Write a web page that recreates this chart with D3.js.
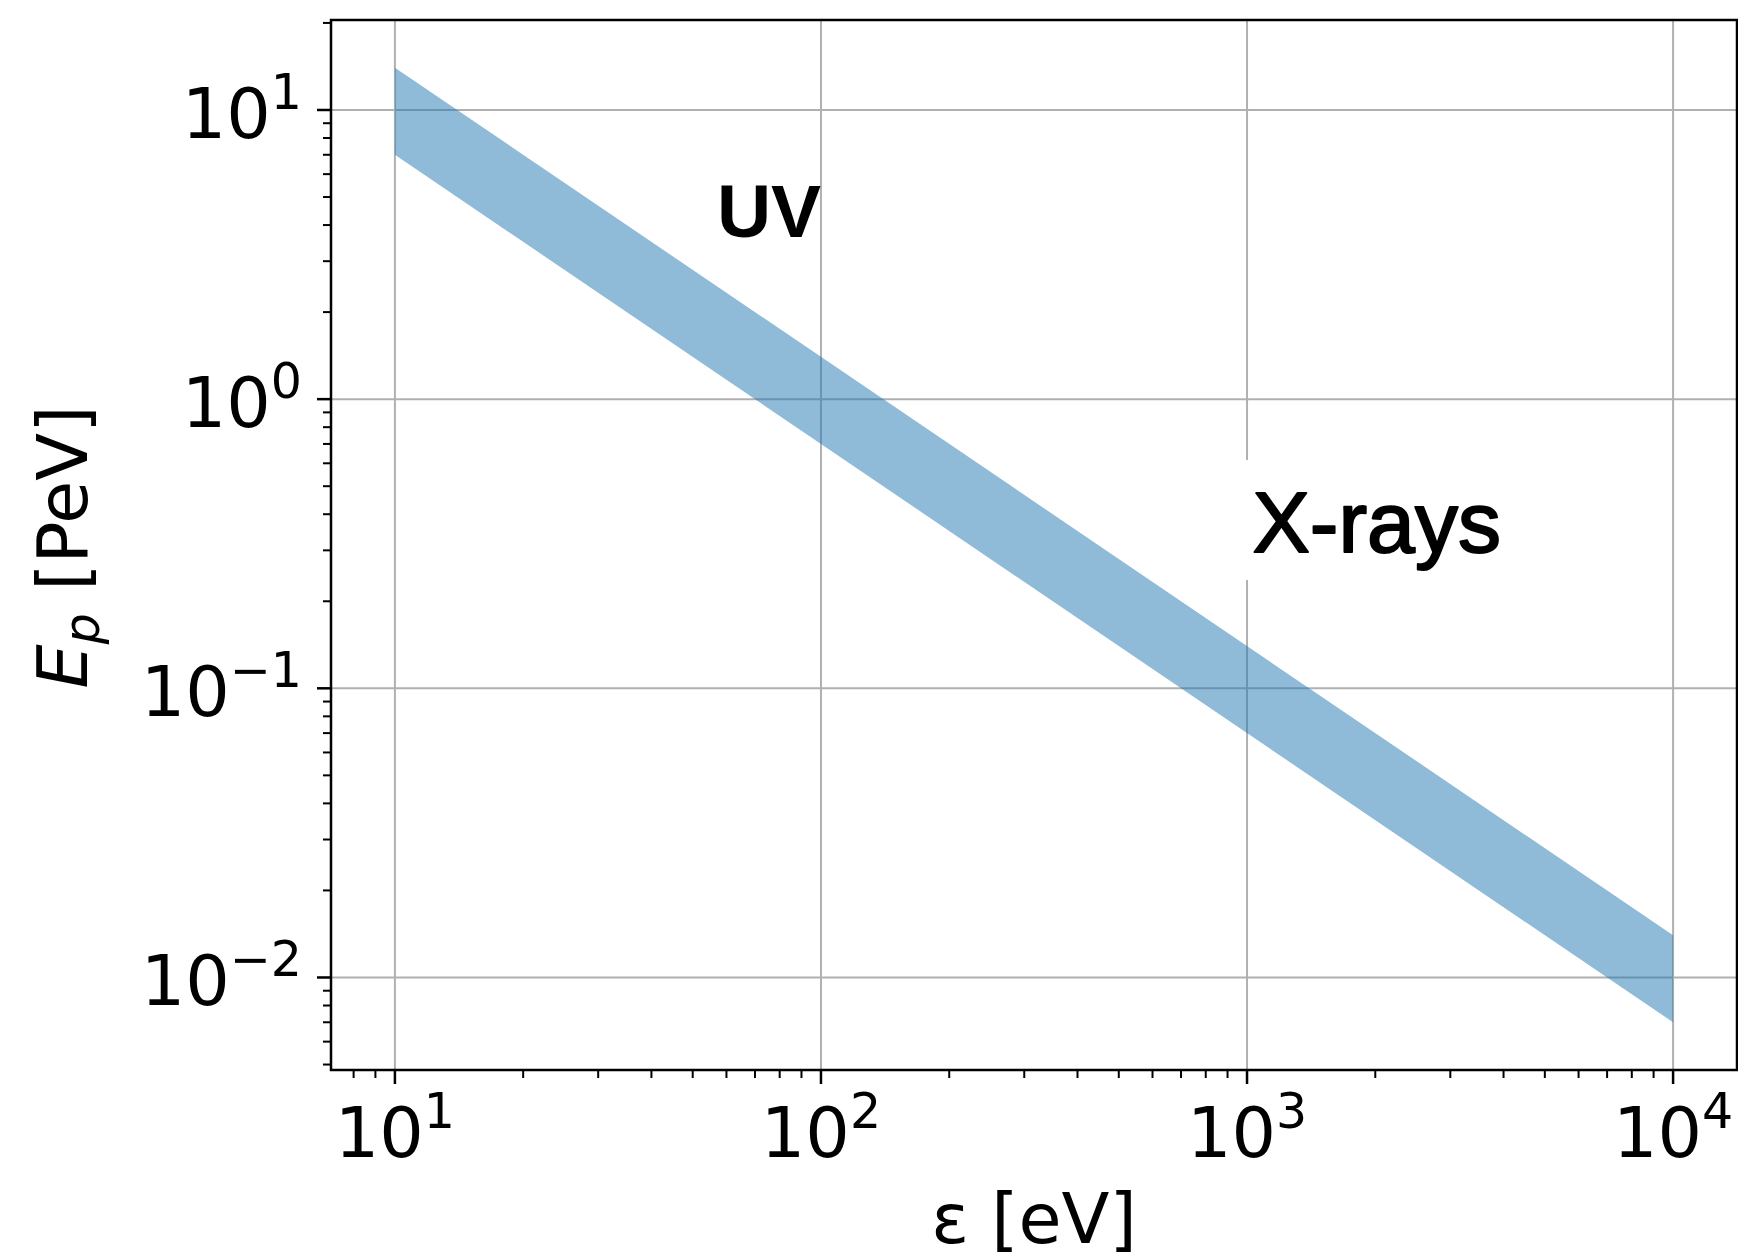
<!DOCTYPE html>
<html>
<head>
<meta charset="utf-8">
<script src="https://cdn.jsdelivr.net/npm/d3@7"></script>
<style>
  html, body { margin: 0; padding: 0; background: #fff; }
  svg { display: block; }
</style>
</head>
<body>
<div id="chart"></div>
<script>
// photon energy at the two ends of the band [eV]
const photonEnergy = [10, 10000];
// proton energy band [PeV], lower and upper edge
const protonLow = [7, 0.007];
const protonHigh = [14, 0.014];

// decades shown as major ticks
const xExponents = [1, 2, 3, 4];
const yExponents = [-2, -1, 0, 1];

// text annotations, placed in data coordinates
const notes = [
  { text: 'UV', eps: 57, ep: 3.65, weight: 'bold', size: 75, box: false, thicken: 0 },
  { text: 'X-rays', eps: 1030, ep: 0.296, weight: 'normal', size: 86, box: true, thicken: 2 }
];

const width = 1738;
const height = 1260;

const svg = d3.select('#chart').append('svg')
  .attr('width', width)
  .attr('height', height);

// matplotlib style 5% margin in log space
function logPadded(values) {
  const lo = Math.log10(d3.min(values));
  const hi = Math.log10(d3.max(values));
  const m = (hi - lo) * 0.05;
  return [Math.pow(10, lo - m), Math.pow(10, hi + m)];
}

const plotLeft = 331, plotRight = 1737, plotTop = 20, plotBottom = 1070;

const x = d3.scaleLog().domain(logPadded(photonEnergy)).range([plotLeft, plotRight]);
const y = d3.scaleLog().domain(logPadded(protonLow.concat(protonHigh))).range([plotBottom, plotTop]);

const font = '"DejaVu Sans", sans-serif';
const tickSize = 70;

// grid at the major ticks
const grid = svg.append('g').attr('stroke', '#b0b0b0').attr('stroke-width', 2);
xExponents.forEach((e) => {
  const gx = x(Math.pow(10, e));
  grid.append('line').attr('x1', gx).attr('x2', gx).attr('y1', plotTop).attr('y2', plotBottom);
});
yExponents.forEach((e) => {
  const gy = y(Math.pow(10, e));
  grid.append('line').attr('x1', plotLeft).attr('x2', plotRight).attr('y1', gy).attr('y2', gy);
});

// the band
const bandData = photonEnergy.map((d, i) => ({ eps: d, lo: protonLow[i], hi: protonHigh[i] }));
const area = d3.area()
  .x((d) => x(d.eps))
  .y0((d) => y(d.lo))
  .y1((d) => y(d.hi));

svg.append('path')
  .datum(bandData)
  .attr('d', area)
  .attr('fill', '#1f77b4')
  .attr('fill-opacity', 0.5);

// minor ticks: 2..9 times each decade inside the domain
function minorTicks(scale) {
  const [a, b] = scale.domain();
  const out = [];
  for (let e = Math.floor(Math.log10(a)); e <= Math.ceil(Math.log10(b)); e++) {
    for (let k = 2; k <= 9; k++) {
      const v = k * Math.pow(10, e);
      if (v >= a && v <= b) out.push(v);
    }
  }
  return out;
}

const ticks = svg.append('g').attr('stroke', '#000');
minorTicks(x).forEach((v) => {
  ticks.append('line').attr('x1', x(v)).attr('x2', x(v))
    .attr('y1', plotBottom).attr('y2', plotBottom + 8).attr('stroke-width', 2);
});
xExponents.forEach((e) => {
  const v = x(Math.pow(10, e));
  ticks.append('line').attr('x1', v).attr('x2', v)
    .attr('y1', plotBottom).attr('y2', plotBottom + 14).attr('stroke-width', 2.5);
});
minorTicks(y).forEach((v) => {
  ticks.append('line').attr('y1', y(v)).attr('y2', y(v))
    .attr('x1', plotLeft).attr('x2', plotLeft - 8).attr('stroke-width', 2);
});
yExponents.forEach((e) => {
  const v = y(Math.pow(10, e));
  ticks.append('line').attr('y1', v).attr('y2', v)
    .attr('x1', plotLeft).attr('x2', plotLeft - 14).attr('stroke-width', 2.5);
});

// frame
svg.append('rect')
  .attr('x', plotLeft).attr('y', plotTop)
  .attr('width', plotRight - plotLeft).attr('height', plotBottom - plotTop)
  .attr('fill', 'none').attr('stroke', '#000').attr('stroke-width', 2.5);

// power of ten label: "10" with superscript exponent
function powerLabel(sel, e) {
  sel.append('tspan').text('10');
  sel.append('tspan')
    .attr('font-size', tickSize * 0.7)
    .attr('dy', -29)
    .text(e < 0 ? '\u2212' + Math.abs(e) : String(e));
}

xExponents.forEach((e) => {
  const t = svg.append('text')
    .attr('x', x(Math.pow(10, e)))
    .attr('y', 1157)
    .attr('text-anchor', 'middle')
    .attr('font-family', font)
    .attr('font-size', tickSize)
    .attr('fill', '#000');
  powerLabel(t, e);
});

yExponents.forEach((e) => {
  const t = svg.append('text')
    .attr('x', 302)
    .attr('y', y(Math.pow(10, e)) + 28)
    .attr('text-anchor', 'end')
    .attr('font-family', font)
    .attr('font-size', tickSize)
    .attr('fill', '#000');
  powerLabel(t, e);
});

// axis titles
svg.append('text')
  .attr('x', (plotLeft + plotRight) / 2)
  .attr('y', 1243)
  .attr('text-anchor', 'middle')
  .attr('font-family', font)
  .attr('font-size', 70)
  .attr('fill', '#000')
  .text('\u03b5 [eV]');

const yTitle = svg.append('text')
  .attr('transform', `translate(87,${(plotTop + plotBottom) / 2 + 2}) rotate(-90)`)
  .attr('text-anchor', 'middle')
  .attr('font-family', font)
  .attr('font-size', 70)
  .attr('fill', '#000')
  .attr('xml:space', 'preserve');
yTitle.append('tspan').attr('font-style', 'italic').text('E');
yTitle.append('tspan').attr('font-style', 'italic').attr('font-size', 49).attr('dy', 12).text('p');
yTitle.append('tspan').attr('dy', -12).text(' [PeV]');

// annotations
notes.forEach((n) => {
  const g = svg.append('g');
  const t = g.append('text')
    .attr('x', x(n.eps))
    .attr('y', y(n.ep))
    .attr('font-family', '"Liberation Sans", Arial, sans-serif')
    .attr('font-weight', n.weight)
    .attr('font-size', n.size)
    .attr('fill', '#000')
    .text(n.text);
  if (n.thicken) {
    t.attr('stroke', '#000').attr('stroke-width', n.thicken).attr('stroke-linejoin', 'round');
  }
  if (n.box) {
    const b = t.node().getBBox();
    g.insert('rect', 'text')
      .attr('x', b.x - 14)
      .attr('y', b.y - 14)
      .attr('width', b.width + 28)
      .attr('height', b.height + 24)
      .attr('fill', '#fff');
  }
});
</script>
</body>
</html>
